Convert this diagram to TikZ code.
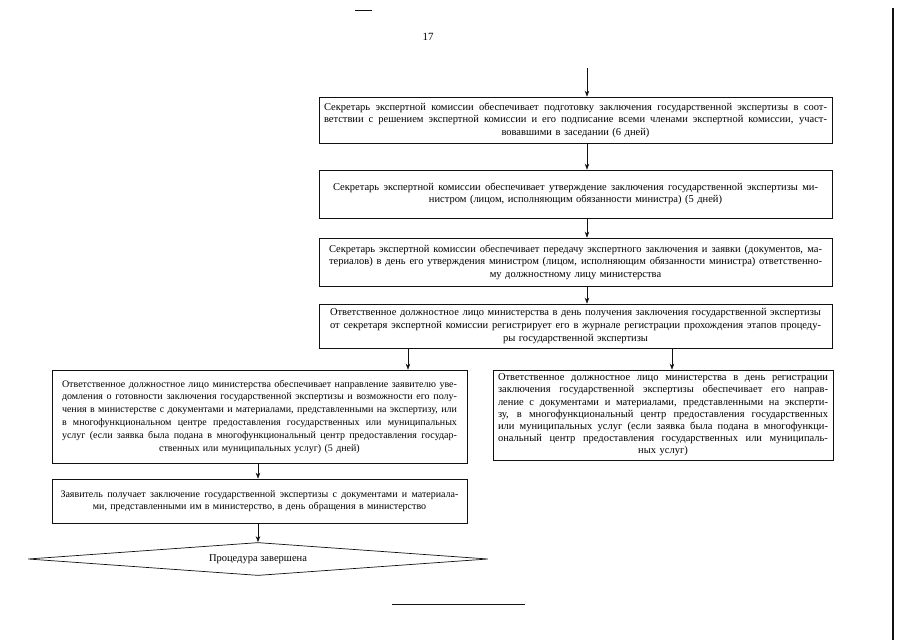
\documentclass[tikz,border=0pt]{standalone}
\usepackage{fontspec}
\setmainfont{Liberation Serif}
\usetikzlibrary{arrows.meta, positioning, shapes.geometric, calc}
\definecolor{inkDark}{HTML}{111111}
\newcommand{\jline}[1]{\leavevmode{\spaceskip=0.25em plus 1fil\relax\hbox to \hsize{#1}}}
\tikzset{
  arrowK/.style={-{Stealth[length=6pt, width=4.5pt]}, draw=inkDark, line width=0.6pt},
  boxStep/.style={rectangle, draw=inkDark, line width=0.7pt, fill=white,
                  align=center, font=\fontsize{10.5}{12.6}\selectfont, inner sep=0pt},
  boxEnd/.style={diamond, draw=inkDark, line width=0.7pt, aspect=13, inner sep=0pt,
                 font=\fontsize{10.5}{12.6}\selectfont},
}
\begin{document}
\begin{tikzpicture}[x=1pt, y=-1pt]
    \useasboundingbox (0,0) rectangle (905,640);
    \node[font=\fontsize{11}{13}\selectfont] (page) at (428,37) {17};
    \draw[inkDark, line width=0.8pt] (355,10) -- (372,10);
    \draw[inkDark, line width=0.8pt] (392,604) -- (525,604);
    \draw[inkDark, line width=2.6pt] (893,8) -- (893,640);
    \node[boxStep, minimum width=513pt, minimum height=46pt, text width=503pt] (s1) at (575.5,120)
      {\jline{Секретарь экспертной комиссии обеспечивает подготовку заключения государственной экспертизы в соот-}\\
       \jline{ветствии с решением экспертной комиссии и его подписание всеми членами экспертной комиссии, участ-}\\
       вовавшими в заседании (6 дней)\\[3pt]};
    \node[boxStep, minimum width=513pt, minimum height=48pt, text width=485pt] (s2) at (575.5,194)
      {\jline{Секретарь экспертной комиссии обеспечивает утверждение заключения государственной экспертизы ми-}\\
       нистром (лицом, исполняющим обязанности министра) (5 дней)\\[15pt]};
    \node[boxStep, minimum width=513pt, minimum height=48pt, text width=493pt] (s3) at (575.5,262)
      {\jline{Секретарь экспертной комиссии обеспечивает передачу экспертного заключения и заявки (документов, ма-}\\
       \jline{териалов) в день его утверждения министром (лицом, исполняющим обязанности министра) ответственно-}\\
       му должностному лицу министерства};
    \node[boxStep, minimum width=513pt, minimum height=44pt, text width=491pt] (s4) at (575.5,326)
      {\jline{Ответственное должностное лицо министерства в день получения заключения государственной экспертизы}\\
       \jline{от секретаря экспертной комиссии регистрирует его в журнале регистрации прохождения этапов процеду-}\\
       ры государственной экспертизы};
    \node[boxStep, minimum width=415pt, minimum height=93pt, text width=395pt,
          font=\fontsize{10}{12.8}\selectfont] (s5) at (259.5,416.5)
      {\jline{Ответственное должностное лицо министерства обеспечивает направление заявителю уве-}\\
       \jline{домления о готовности заключения государственной экспертизы и возможности его полу-}\\
       \jline{чения в министерстве с документами и материалами, представленными на экспертизу, или}\\
       \jline{в многофункциональном центре предоставления государственных или муниципальных}\\
       \jline{услуг (если заявка была подана в многофункциональный центр предоставления государ-}\\
       ственных или муниципальных услуг) (5 дней)};
    \node[boxStep, minimum width=340pt, minimum height=90pt, text width=330pt,
          font=\fontsize{10.5}{12.2}\selectfont] (s6) at (663,415)
      {\jline{Ответственное должностное лицо министерства в день регистрации}\\
       \jline{заключения государственной экспертизы обеспечивает его направ-}\\
       \jline{ление с документами и материалами, представленными на эксперти-}\\
       \jline{зу, в многофункциональный центр предоставления государственных}\\
       \jline{или муниципальных услуг (если заявка была подана в многофункци-}\\
       \jline{ональный центр предоставления государственных или муниципаль-}\\
       ных услуг)};
    \node[boxStep, minimum width=415pt, minimum height=44pt, text width=398pt,
          font=\fontsize{10}{12.6}\selectfont] (s7) at (259.5,501)
      {\jline{Заявитель получает заключение государственной экспертизы с документами и материала-}\\
       ми, представленными им в министерство, в день обращения в министерство\\[5pt]};
    \node[boxEnd, minimum width=460pt, minimum height=33pt] (done) at (258,559)
      {Процедура завершена};
    \coordinate (in) at (587,68);
    \draw[arrowK] (in) -- (in |- s1.north);
    \draw[arrowK] (s1.south -| in) -- (s2.north -| in);
    \draw[arrowK] (s2.south -| in) -- (s3.north -| in);
    \draw[arrowK] (s3.south -| in) -- (s4.north -| in);
    \draw[arrowK] (s4.south -| 408,0) -- (s5.north -| 408,0);
    \draw[arrowK] (s4.south -| 672,0) -- (s6.north -| 672,0);
    \draw[arrowK] (s5.south -| done.north) -- (s7.north -| done.north);
    \draw[arrowK] (s7.south -| done.north) -- (done.north);
\end{tikzpicture}
\end{document}
